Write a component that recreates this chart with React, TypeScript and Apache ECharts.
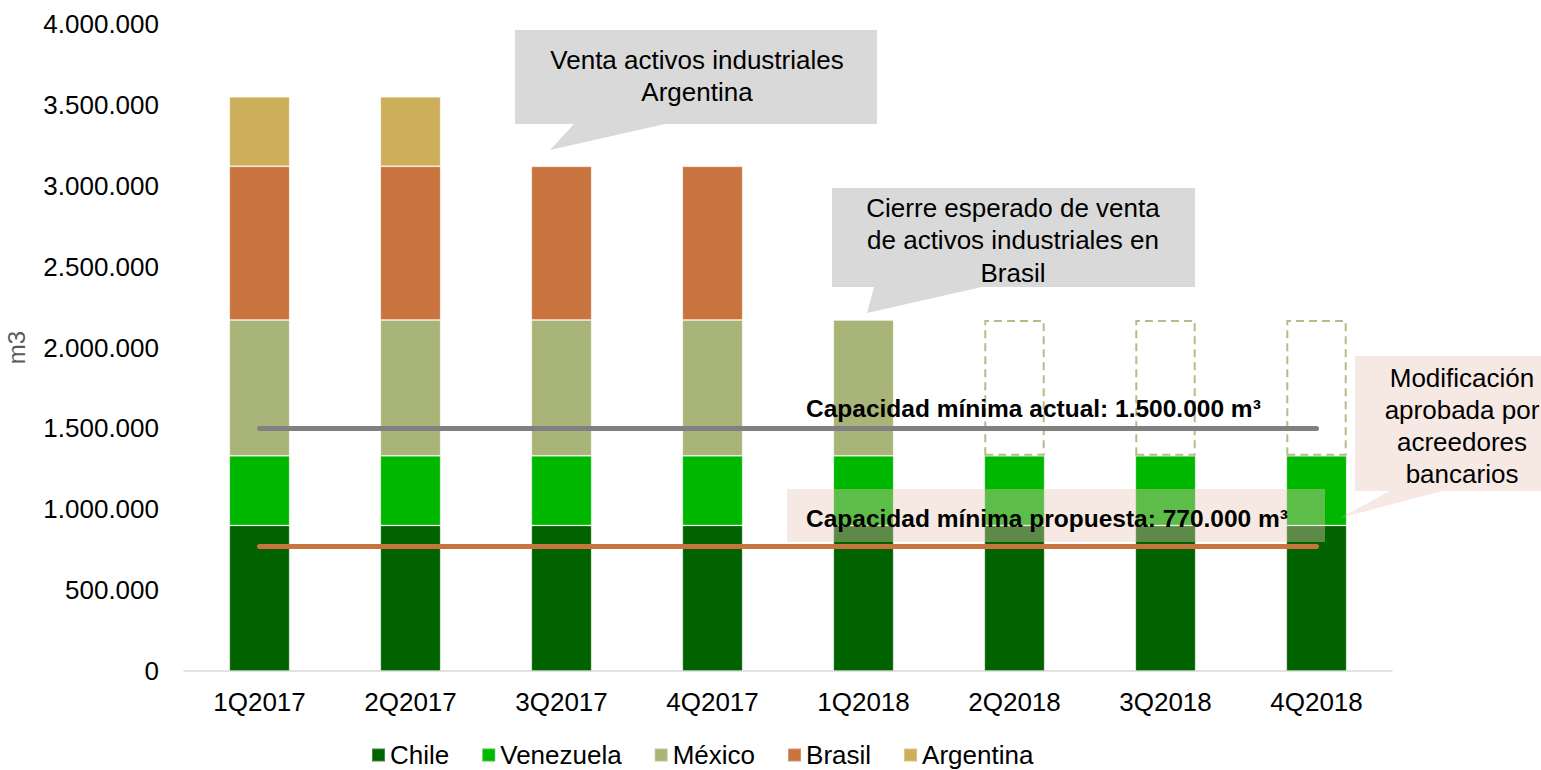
import React, { useEffect, useRef } from "react";
import * as echarts from "echarts";

const categories = ["1Q2017", "2Q2017", "3Q2017", "4Q2017", "1Q2018", "2Q2018", "3Q2018", "4Q2018"];
const chile = [900000, 900000, 900000, 900000, 900000, 900000, 900000, 900000];
const venezuela = [430000, 430000, 430000, 430000, 430000, 430000, 430000, 430000];
const mexico = [840000, 840000, 840000, 840000, 840000, 840000, 840000, 840000];
const mexicoProjected = [false, false, false, false, false, true, true, true];
const brasil = [950000, 950000, 950000, 950000, null, null, null, null];
const argentina = [430000, 430000, null, null, null, null, null, null];
const capacidadActual = [1500000, 1500000, 1500000, 1500000, 1500000, 1500000, 1500000, 1500000];
const capacidadPropuesta = [770000, 770000, 770000, 770000, 770000, 770000, 770000, 770000];

const FONT = "'Liberation Sans', Arial, sans-serif";
const COLORS = {
  chile: "#006300",
  venezuela: "#00b700",
  mexico: "#a9b478",
  brasil: "#c9733e",
  argentina: "#cdae5b",
};

const fmt = (v: number) => String(v).replace(/\B(?=(\d{3})+(?!\d))/g, ".");

export default function App() {
  const ref = useRef<HTMLDivElement>(null);
  useEffect(() => {
    document.body.style.margin = "0";
    if (!ref.current) return;
    const chart = echarts.init(ref.current, null, { renderer: "svg" });
    const barBase = {
      type: "bar",
      stack: "total",
      barWidth: "40%",
      itemStyle: { borderColor: "rgba(255,255,255,0.25)", borderWidth: 1 },
    };
    const peach = "rgba(232,197,182,0.4)";
    const gray = "#d9d9d9";
    chart.setOption({
      animation: false,
      grid: { left: 184, right: 149, top: 24, bottom: 99, containLabel: false, outerBoundsMode: "none" },
      legend: {
        left: 366,
        top: 737,
        itemWidth: 13,
        itemHeight: 13,
        itemGap: 32,
        icon: "rect",
        data: ["Chile", "Venezuela", "México", "Brasil", "Argentina"],
        textStyle: { fontFamily: FONT, fontSize: 26, color: "#000" },
      },
      xAxis: {
        type: "category",
        data: categories,
        axisTick: { show: false },
        axisLine: { lineStyle: { color: "#d9d9d9", width: 1.5 } },
        axisLabel: { fontFamily: FONT, fontSize: 26, color: "#000", margin: 18 },
      },
      yAxis: {
        type: "value",
        min: 0,
        max: 4000000,
        interval: 500000,
        name: "m3",
        nameLocation: "middle",
        nameGap: 156,
        nameTextStyle: { fontFamily: FONT, fontSize: 24, color: "#595959" },
        splitLine: { show: false },
        axisLine: { show: false },
        axisTick: { show: false },
        axisLabel: { fontFamily: FONT, fontSize: 26, color: "#000", margin: 25, formatter: fmt },
      },
      series: [
        { ...barBase, name: "Chile", data: chile, itemStyle: { ...barBase.itemStyle, color: COLORS.chile } },
        { ...barBase, name: "Venezuela", data: venezuela, itemStyle: { ...barBase.itemStyle, color: COLORS.venezuela } },
        {
          ...barBase,
          name: "México",
          itemStyle: { ...barBase.itemStyle, color: COLORS.mexico },
          data: mexico.map((v, i) =>
            mexicoProjected[i]
              ? {
                  value: v,
                  itemStyle: {
                    color: "rgba(0,0,0,0)",
                    borderColor: "#b3bd86",
                    borderWidth: 2,
                    borderType: [8, 5],
                  },
                }
              : v
          ),
        },
        { ...barBase, name: "Brasil", data: brasil, itemStyle: { ...barBase.itemStyle, color: COLORS.brasil } },
        { ...barBase, name: "Argentina", data: argentina, itemStyle: { ...barBase.itemStyle, color: COLORS.argentina } },
        {
          type: "line",
          name: "Capacidad actual",
          data: capacidadActual,
          symbol: "none",
          lineStyle: { color: "#808080", width: 5, cap: "round" },
          z: 5,
        },
        {
          type: "line",
          name: "Capacidad propuesta",
          data: capacidadPropuesta,
          symbol: "none",
          lineStyle: { color: "#c9733e", width: 5, cap: "round" },
          z: 5,
        },
      ],
      graphic: [
        {
          type: "polygon",
          shape: { points: [[515, 30], [877, 30], [877, 124], [665, 124], [550, 150], [574, 124], [515, 124]] },
          style: { fill: gray },
          z: 10,
        },
        {
          type: "text",
          x: 697,
          y: 76,
          style: {
            text: "Venta activos industriales\nArgentina",
            fontFamily: FONT,
            fontSize: 26,
            lineHeight: 32,
            fill: "#000",
            align: "center",
            verticalAlign: "middle",
          },
          z: 11,
        },
        {
          type: "polygon",
          shape: { points: [[832, 188], [1195, 188], [1195, 287], [982, 287], [867, 313], [874, 287], [832, 287]] },
          style: { fill: gray },
          z: 10,
        },
        {
          type: "text",
          x: 1013,
          y: 240,
          style: {
            text: "Cierre esperado de venta\nde activos industriales en\nBrasil",
            fontFamily: FONT,
            fontSize: 26,
            lineHeight: 32.5,
            fill: "#000",
            align: "center",
            verticalAlign: "middle",
          },
          z: 11,
        },
        {
          type: "text",
          x: 806,
          y: 408,
          style: {
            text: "Capacidad mínima actual: 1.500.000 m³",
            fontFamily: FONT,
            fontWeight: "bold",
            fontSize: 24.5,
            fill: "#000",
            align: "left",
            verticalAlign: "middle",
          },
          z: 11,
        },
        {
          type: "rect",
          shape: { x: 787, y: 489, width: 538, height: 53 },
          style: { fill: peach },
          z: 10,
        },
        {
          type: "text",
          x: 806,
          y: 518,
          style: {
            text: "Capacidad mínima propuesta: 770.000 m³",
            fontFamily: FONT,
            fontWeight: "bold",
            fontSize: 24.5,
            fill: "#000",
            align: "left",
            verticalAlign: "middle",
          },
          z: 11,
        },
        {
          type: "polygon",
          shape: { points: [[1355, 356], [1541, 356], [1541, 491], [1442, 491], [1340, 518], [1390, 491], [1355, 491]] },
          style: { fill: peach },
          z: 10,
        },
        {
          type: "text",
          x: 1462,
          y: 426,
          style: {
            text: "Modificación\naprobada por\nacreedores\nbancarios",
            fontFamily: FONT,
            fontSize: 26,
            lineHeight: 32,
            fill: "#000",
            align: "center",
            verticalAlign: "middle",
          },
          z: 11,
        },
      ],
    });
    return () => chart.dispose();
  }, []);
  return <div ref={ref} style={{ width: 1541, height: 770 }} />;
}
